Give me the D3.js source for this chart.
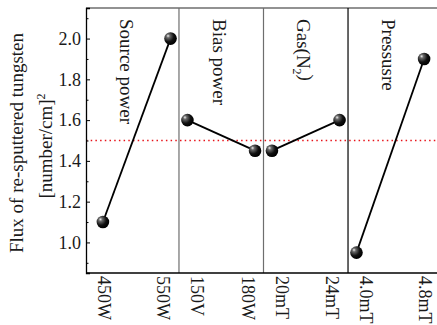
<!DOCTYPE html>
<html>
<head>
<meta charset="utf-8">
<script src="https://cdn.jsdelivr.net/npm/d3@7"></script>
<style>
  body { margin: 0; background: #fff; }
  text { font-family: "Liberation Serif", "Times New Roman", serif; fill: #1a1a1a; }
</style>
</head>
<body>
<svg id="chart"></svg>
<script>
// factors, their two levels and the measured flux
var factors = ["Source power", "Bias power", "Gas(N2)", "Pressusre"]
var levels = [["450W", "550W"], ["150V", "180W"], ["20mT", "24mT"], ["4.0mT", "4.8mT"]]
var flux = [[1.10, 2.00], [1.60, 1.45], [1.45, 1.60], [0.95, 1.90]]
var meanFlux = 1.5
var yTicks = [1.0, 1.2, 1.4, 1.6, 1.8, 2.0]
var yMinorTicks = [0.9, 1.1, 1.3, 1.5, 1.7, 1.9, 2.1]

var dimensions = {
  width: 437,
  height: 325,
  margin: { top: 8, bottom: 52, left: 86, right: -4 }
}

var svg = d3.select("#chart")
  .attr("width", dimensions.width)
  .attr("height", dimensions.height)

// each factor takes 5 units, levels sit at 0 and 4 inside it
var unit = (i, j) => i * 5 + j * 4

var xScale = d3.scaleLinear()
  .domain([-1, 20])
  .range([dimensions.margin.left, dimensions.width - dimensions.margin.right])
var yScale = d3.scaleLinear()
  .domain([0.85, 2.15])
  .range([dimensions.height - dimensions.margin.bottom, dimensions.margin.top])

var x0 = xScale.range()[0], x1 = xScale.range()[1]
var y0 = yScale.range()[0], y1 = yScale.range()[1]

// panel edges
var edges = [x0]
factors.forEach((f, i) => { if (i > 0) edges.push(xScale(i * 5 - 0.5)) })
edges.push(x1)

var defs = svg.append("defs")
var grad = defs.append("radialGradient")
  .attr("id", "ball")
  .attr("cx", "35%").attr("cy", "35%").attr("r", "65%")
  .attr("fx", "30%").attr("fy", "28%")
grad.append("stop").attr("offset", "0%").attr("stop-color", "#f0f0f0")
grad.append("stop").attr("offset", "22%").attr("stop-color", "#6a6a6a")
grad.append("stop").attr("offset", "65%").attr("stop-color", "#111")
grad.append("stop").attr("offset", "100%").attr("stop-color", "#000")

// top frame
svg.append("line")
  .attr("x1", x0).attr("x2", x1)
  .attr("y1", y1).attr("y2", y1)
  .attr("stroke", "#6e6e6e").attr("stroke-width", 1.6)

// dividers between factors
var dividerColors = ["#6e6e6e", "#6e6e6e", "#000"]
edges.slice(1, 4).forEach((e, k) => {
  svg.append("line")
    .attr("x1", e).attr("x2", e)
    .attr("y1", y1).attr("y2", y0)
    .attr("stroke", dividerColors[k]).attr("stroke-width", 1.2)
})

// mean line
svg.append("line")
  .attr("x1", x0).attr("x2", x1)
  .attr("y1", yScale(meanFlux)).attr("y2", yScale(meanFlux))
  .attr("stroke", "#e8141b").attr("stroke-width", 1.3)
  .attr("stroke-dasharray", "1.5,3.2")

// left axis, ticks inward
var yAxisgen = d3.axisRight(yScale).tickValues(yTicks).tickSize(4).tickFormat("")
svg.append("g")
  .attr("transform", `translate(${x0},0)`)
  .call(yAxisgen)
  .call(g => g.select(".domain").attr("stroke", "#000").attr("stroke-width", 1.3))
var yMinorgen = d3.axisRight(yScale).tickValues(yMinorTicks).tickSize(2.5).tickFormat("")
svg.append("g")
  .attr("transform", `translate(${x0},0)`)
  .call(yMinorgen)
  .call(g => g.select(".domain").remove())

svg.selectAll(".ylabel")
  .data(yTicks)
  .enter()
  .append("text")
  .attr("x", x0 - 5)
  .attr("y", d => yScale(d))
  .attr("dy", "0.35em")
  .attr("text-anchor", "end")
  .style("font-size", "18px")
  .text(d => d.toFixed(1))

// bottom axis line
svg.append("line")
  .attr("x1", x0).attr("x2", x1)
  .attr("y1", y0).attr("y2", y0)
  .attr("stroke", "#000").attr("stroke-width", 1.3)

// level labels, rotated
levels.forEach((lv, i) => {
  lv.forEach((name, j) => {
    var cx = j == 0 ? edges[i] + 18 : edges[i + 1] - 16
    svg.append("text")
      .attr("transform", `translate(${cx},${y0 + 3}) rotate(90)`)
      .attr("dy", "0.33em")
      .style("font-size", "18px")
      .text(name)
  })
})

// factor labels
factors.forEach((f, i) => {
  var t = svg.append("text")
    .attr("transform", `translate(${edges[i] + 40},19) rotate(90)`)
    .attr("dy", "0.33em")
    .style("font-size", "19px")
  if (f == "Gas(N2)") {
    t.append("tspan").text("Gas(N")
    t.append("tspan").attr("dy", "0.35em").style("font-size", "12px").text("2")
    t.append("tspan").attr("dy", "-0.35em").text(")")
  } else {
    t.text(f)
  }
})

// lines and balls
var line = d3.line()
  .x(d => xScale(d.u))
  .y(d => yScale(d.v))
flux.forEach((vals, i) => {
  var pts = vals.map((v, j) => ({ u: unit(i, j), v: v }))
  svg.append("path")
    .datum(pts)
    .attr("d", line)
    .attr("fill", "none")
    .attr("stroke", "#000")
    .attr("stroke-width", 1.8)
  svg.selectAll(".ball" + i)
    .data(pts)
    .enter()
    .append("circle")
    .attr("cx", d => xScale(d.u))
    .attr("cy", d => yScale(d.v))
    .attr("r", 6.3)
    .attr("fill", "url(#ball)")
})

// y title
svg.append("text")
  .attr("transform", `translate(23,143) rotate(-90)`)
  .attr("text-anchor", "middle")
  .style("font-size", "19px")
  .text("Flux of re-sputtered tungsten")
var title2 = svg.append("text")
  .attr("transform", `translate(52,146) rotate(-90)`)
  .attr("text-anchor", "middle")
  .style("font-size", "19px")
title2.append("tspan").text("[number/cm]")
title2.append("tspan").attr("dy", "-0.6em").style("font-size", "12px").text("2")
</script>
</body>
</html>
